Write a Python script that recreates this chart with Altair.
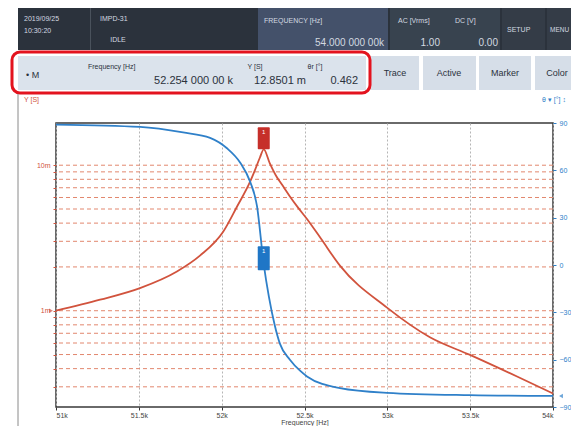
import altair as alt
import pandas as pd

# ---------------- data ----------------
freq_adm = [51000, 51266, 51507, 51730, 51869, 52008, 52093, 52171, 52201, 52231, 52254,
            52290, 52330, 52372, 52412, 52460, 52515, 52600, 52714, 52998, 53257, 53499, 53783, 54000]
adm_S = [1.00e-3, 1.19e-3, 1.43e-3, 1.86e-3, 2.39e-3, 3.47e-3, 5.2e-3, 7.67e-3, 9.25e-3, 11.3e-3, 12.85e-3,
         10.35e-3, 8.4e-3, 7.14e-3, 6.1e-3, 5.13e-3, 4.27e-3, 3.12e-3, 2.04e-3, 1.05e-3, 0.657e-3, 0.497e-3,
         0.353e-3, 0.27e-3]

freq_phase = [51000, 51507, 51767, 51930, 52032, 52111, 52171, 52213, 52254, 52285, 52320,
              52352, 52412, 52473, 52515, 52714, 52998, 53499, 54000]
phase_deg = [89.0, 87.5, 84.0, 80.6, 74.0, 65.0, 53.0, 37.5, 0.462, -20.0, -38.0,
             -50.0, -60.0, -67.0, -70.6, -78.0, -81.0, -82.5, -83.0]

marker_freq = [52254]
marker_adm = [12.8501e-3]
marker_phase = [0.462]

x_tick_values = [51000, 51500, 52000, 52500, 53000, 53500, 54000]
x_tick_labels = ["51k", "51.5k", "52k", "52.5k", "53k", "53.5k", "54k"]
y_grid_values = [3e-4, 4e-4, 5e-4, 6e-4, 7e-4, 8e-4, 9e-4,
                 1e-3, 2e-3, 3e-3, 4e-3, 5e-3, 6e-3, 7e-3, 8e-3, 9e-3, 1e-2]
y_label_values = [1e-3, 1e-2]
y_label_texts = ["1m", "10m"]
phase_tick_values = [-90, -60, -30, 0, 30, 60, 90]

RED = "#d1533d"
BLUE = "#2f80c9"
FONT = "Liberation Sans"
W, H = 497, 284

adm_df = pd.DataFrame({"f": freq_adm, "Y": adm_S})
ph_df = pd.DataFrame({"f": freq_phase, "P": phase_deg})
mk_df = pd.DataFrame({"f": marker_freq, "Y": marker_adm, "P": marker_phase})
end_df = pd.DataFrame({"f": [freq_phase[-1]], "P": [phase_deg[-1]]})
start_df = pd.DataFrame({"f": [freq_adm[0]], "Y": [adm_S[0]]})
grid_df = pd.DataFrame({"Y": y_grid_values})

x_expr = " : ".join(f"datum.value == {v} ? '{l}'" for v, l in zip(x_tick_values, x_tick_labels)) + " : ''"
y_expr = " : ".join(f"abs(datum.value - {v}) < 1e-9 ? '{l}'" for v, l in zip(y_label_values, y_label_texts)) + " : ''"

x_scale = alt.Scale(domain=[51000, 54000], nice=False, zero=False)
y_scale = alt.Scale(type="log", domain=[2.18e-4, 1.95e-2], nice=False)
p_scale = alt.Scale(domain=[-90, 90], nice=False, zero=False)

x_axis = alt.Axis(values=x_tick_values, labelExpr=x_expr, title="Frequency [Hz]",
                  grid=True, gridDash=[2, 2], gridColor="#b5b5b5", domain=False,
                  tickColor="#333", tickSize=3, labelFontSize=7, labelColor="#444",
                  labelPadding=1, titleFontSize=7, titleFontWeight="normal",
                  titleColor="#444", titlePadding=0, labelFont=FONT, titleFont=FONT)
y_axis = alt.Axis(values=y_grid_values, labelExpr=y_expr, title=None, grid=False,
                  domain=False, tickColor=RED, tickSize=3, labelColor=RED, labelFontSize=7,
                  labelPadding=3, labelFont=FONT)
p_axis = alt.Axis(orient="right", values=phase_tick_values, title=None, grid=False,
                  domain=False, tickColor=BLUE, tickSize=3, labelColor=BLUE,
                  labelFontSize=7, labelPadding=3, labelFont=FONT)

xenc = alt.X("f:Q", scale=x_scale, axis=x_axis)
yenc = alt.Y("Y:Q", scale=y_scale, axis=y_axis)
penc = alt.Y("P:Q", scale=p_scale, axis=p_axis)

red_grid = alt.Chart(grid_df).mark_rule(color="#e2876e", strokeDash=[4, 3], strokeWidth=1).encode(y=yenc)
red_line = alt.Chart(adm_df).mark_line(color=RED, strokeWidth=1.8, interpolate="monotone").encode(x=xenc, y=yenc)
red_mark = alt.Chart(mk_df).mark_rect(width=12, height=22, color="#c62f2a", yOffset=-11, cornerRadius=1).encode(x=xenc, y=yenc)
red_mark_txt = alt.Chart(mk_df).mark_text(text="1", color="white", fontSize=6, yOffset=-17, font=FONT).encode(x=xenc, y=yenc)
red_start = alt.Chart(start_df).mark_point(shape="triangle-right", filled=True, color=RED, size=20, xOffset=-5).encode(x=xenc, y=yenc)
red_group = alt.layer(red_grid, red_line, red_mark, red_mark_txt, red_start)

blue_line = alt.Chart(ph_df).mark_line(color=BLUE, strokeWidth=1.8, interpolate="monotone").encode(x=xenc, y=penc)
blue_mark = alt.Chart(mk_df).mark_rect(width=12, height=24, color="#1f76c6", yOffset=-6, cornerRadius=1).encode(x=xenc, y=penc)
blue_mark_txt = alt.Chart(mk_df).mark_text(text="1", color="white", fontSize=6, yOffset=-13, font=FONT).encode(x=xenc, y=penc)
blue_end = alt.Chart(end_df).mark_point(shape="triangle-left", filled=True, color=BLUE, size=20, xOffset=8).encode(x=xenc, y=penc)
blue_group = alt.layer(blue_line, blue_mark, blue_mark_txt, blue_end)

# ---------------- instrument UI decoration (pixel positions relative to plot) ----------------
one = alt.Data(values=[{"k": 0}])


def box(x1, y1, x2, y2, **kw):
    return alt.Chart(one).mark_rect(**kw).encode(
        x=alt.value(x1), x2=alt.value(x2), y=alt.value(y1), y2=alt.value(y2))


def txt(x, y, s, size=7, color="#d3d9e0", align="left", weight="normal"):
    return alt.Chart(one).mark_text(text=s, fontSize=size, color=color, align=align,
                                    baseline="middle", font=FONT, fontWeight=weight).encode(
        x=alt.value(x), y=alt.value(y))


deco = [
    # header bar
    box(-38, -115, 523, -73, color="#2b323c"),
    box(202, -115, 332, -73, color="#44516a"),
    box(334, -115, 444, -73, color="#38434f"),
    box(446, -115, 489, -73, color="#343c47"),
    box(491, -115, 523, -73, color="#343c47"),
    box(34, -115, 35, -73, color="#4a525c"),
    txt(-32, -104, "2019/09/25"),
    txt(-32, -92, "10:30:20"),
    txt(44, -104, "IMPD-31"),
    txt(62, -83, "IDLE", align="center"),
    txt(208, -102, "FREQUENCY [Hz]"),
    txt(328, -80, "54.000 000 00k", size=10, align="right"),
    txt(342, -102, "AC [Vrms]"),
    txt(384, -80, "1.00", size=10, align="right"),
    txt(399, -102, "DC [V]"),
    txt(442, -80, "0.00", size=10, align="right"),
    txt(451, -93, "SETUP"),
    txt(494, -93, "MENU", size=6.5),
    # second row
    box(-38, -67, 310, -33, color="#dbe3ec"),
    box(315, -67, 363, -33, color="#d6dee8"),
    box(367, -67, 420, -33, color="#d6dee8"),
    box(423, -67, 475, -33, color="#d6dee8"),
    box(479, -67, 523, -33, color="#d6dee8"),
    txt(-30, -48, "• M", size=9, color="#2b323c"),
    txt(32, -56, "Frequency [Hz]", size=7, color="#2b323c"),
    txt(177, -42, "52.254 000 00 k", size=11, color="#2b323c", align="right"),
    txt(199, -56, "Y [S]", size=7, color="#2b323c", align="center"),
    txt(250, -42, "12.8501 m", size=11, color="#2b323c", align="right"),
    txt(259, -56, "θr [°]", size=7, color="#2b323c", align="center"),
    txt(302, -42, "0.462", size=11, color="#2b323c", align="right"),
    txt(339, -50, "Trace", size=9, color="#2b323c", align="center"),
    txt(393, -50, "Active", size=9, color="#2b323c", align="center"),
    txt(449, -50, "Marker", size=9, color="#2b323c", align="center"),
    txt(501, -50, "Color", size=9, color="#2b323c", align="center"),
    box(-44, -71, 314, -30, fillOpacity=0, stroke="#e3131e", strokeWidth=3, cornerRadius=8),
    # panel frame and axis titles
    alt.Chart(one).mark_rule(color="#8a8a8a", strokeWidth=1).encode(
        x=alt.value(-38), y=alt.value(-29), y2=alt.value(320)),
    txt(-32, -23, "Y [S]", size=7, color=RED),
    txt(486, -23, "θ ▾ [°] ↕", size=7, color=BLUE),
]

chart = alt.layer(*deco, red_group, blue_group).resolve_scale(y="independent").properties(
    width=W, height=H,
    autosize=alt.AutoSizeParams(type="none"),
    padding={"left": 48, "top": 115, "right": 18, "bottom": 19},
    background="white",
).configure_view(stroke="#3a3a3a", strokeWidth=1.5)

chart.save("out.html", embed_options={"renderer": "svg", "actions": False})
